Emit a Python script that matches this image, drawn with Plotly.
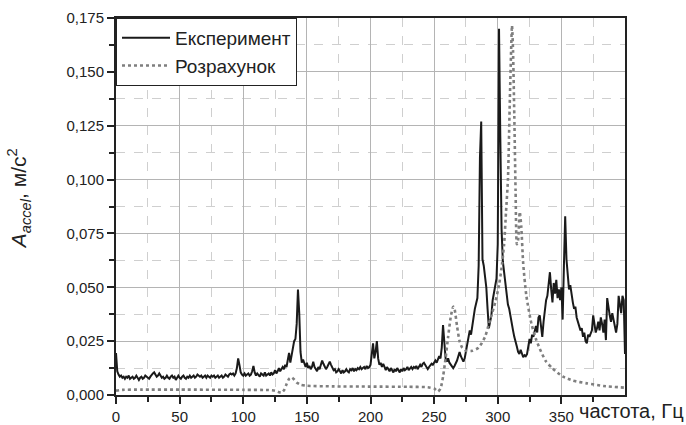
import numpy as np
import plotly.graph_objects as go

# Experiment: amplitude (m/s^2) sampled every 1 Hz from 0 to 400 Hz
exp_freq_step = 1
exp_values = [
    0.0195, 0.0110, 0.0095, 0.0085, 0.0090, 0.0080, 0.0085, 0.0075, 0.0085, 0.0080,  # 0-9
    0.0090, 0.0075, 0.0080, 0.0085, 0.0075, 0.0080, 0.0090, 0.0080, 0.0070, 0.0080,  # 10-19
    0.0085, 0.0075, 0.0080, 0.0090, 0.0085, 0.0080, 0.0075, 0.0085, 0.0095, 0.0100,  # 20-29
    0.0105, 0.0095, 0.0085, 0.0090, 0.0100, 0.0090, 0.0080, 0.0085, 0.0075, 0.0080,  # 30-39
    0.0090, 0.0080, 0.0075, 0.0085, 0.0090, 0.0080, 0.0085, 0.0070, 0.0080, 0.0090,  # 40-49
    0.0080, 0.0075, 0.0085, 0.0090, 0.0080, 0.0075, 0.0085, 0.0080, 0.0090, 0.0080,  # 50-59
    0.0085, 0.0090, 0.0080, 0.0085, 0.0095, 0.0090, 0.0085, 0.0090, 0.0080, 0.0085,  # 60-69
    0.0090, 0.0080, 0.0090, 0.0085, 0.0080, 0.0090, 0.0085, 0.0090, 0.0080, 0.0085,  # 70-79
    0.0090, 0.0080, 0.0085, 0.0090, 0.0080, 0.0085, 0.0095, 0.0090, 0.0085, 0.0095,  # 80-89
    0.0100, 0.0095, 0.0100, 0.0090, 0.0100, 0.0125, 0.0170, 0.0140, 0.0105, 0.0095,  # 90-99
    0.0090, 0.0100, 0.0090, 0.0095, 0.0100, 0.0090, 0.0095, 0.0110, 0.0135, 0.0105,  # 100-109
    0.0090, 0.0100, 0.0090, 0.0085, 0.0100, 0.0095, 0.0090, 0.0105, 0.0090, 0.0095,  # 110-119
    0.0100, 0.0090, 0.0105, 0.0095, 0.0100, 0.0115, 0.0100, 0.0110, 0.0125, 0.0110,  # 120-129
    0.0120, 0.0130, 0.0120, 0.0140, 0.0130, 0.0170, 0.0195, 0.0150, 0.0180, 0.0220,  # 130-139
    0.0250, 0.0260, 0.0330, 0.0490, 0.0380, 0.0200, 0.0150, 0.0165, 0.0140, 0.0130,  # 140-149
    0.0150, 0.0125, 0.0135, 0.0120, 0.0130, 0.0155, 0.0130, 0.0120, 0.0110, 0.0130,  # 150-159
    0.0120, 0.0140, 0.0160, 0.0145, 0.0130, 0.0120, 0.0130, 0.0145, 0.0155, 0.0140,  # 160-169
    0.0125, 0.0115, 0.0120, 0.0105, 0.0110, 0.0120, 0.0110, 0.0100, 0.0115, 0.0105,  # 170-179
    0.0110, 0.0120, 0.0110, 0.0105, 0.0120, 0.0115, 0.0125, 0.0110, 0.0120, 0.0115,  # 180-189
    0.0125, 0.0120, 0.0130, 0.0120, 0.0125, 0.0130, 0.0120, 0.0135, 0.0125, 0.0130,  # 190-199
    0.0140, 0.0180, 0.0240, 0.0170, 0.0200, 0.0250, 0.0170, 0.0140, 0.0150, 0.0130,  # 200-209
    0.0145, 0.0130, 0.0115, 0.0130, 0.0120, 0.0110, 0.0125, 0.0115, 0.0105, 0.0120,  # 210-219
    0.0110, 0.0125, 0.0115, 0.0105, 0.0120, 0.0110, 0.0125, 0.0115, 0.0120, 0.0130,  # 220-229
    0.0115, 0.0125, 0.0130, 0.0120, 0.0130, 0.0125, 0.0135, 0.0120, 0.0130, 0.0140,  # 230-239
    0.0130, 0.0145, 0.0150, 0.0140, 0.0125, 0.0120, 0.0130, 0.0140, 0.0145, 0.0140,  # 240-249
    0.0150, 0.0160, 0.0150, 0.0165, 0.0180, 0.0170, 0.0220, 0.0325, 0.0240, 0.0170,  # 250-259
    0.0155, 0.0170, 0.0150, 0.0140, 0.0135, 0.0125, 0.0135, 0.0145, 0.0160, 0.0180,  # 260-269
    0.0200, 0.0180, 0.0165, 0.0155, 0.0170, 0.0200, 0.0230, 0.0260, 0.0300, 0.0280,  # 270-279
    0.0330, 0.0360, 0.0400, 0.0430, 0.0450, 0.0600, 0.1100, 0.1270, 0.0630, 0.0600,  # 280-289
    0.0550, 0.0500, 0.0400, 0.0310, 0.0340, 0.0370, 0.0440, 0.0470, 0.0500, 0.0540,  # 290-299
    0.0700, 0.1700, 0.1200, 0.0770, 0.0620, 0.0570, 0.0520, 0.0460, 0.0420, 0.0400,  # 300-309
    0.0360, 0.0320, 0.0300, 0.0270, 0.0240, 0.0225, 0.0200, 0.0190, 0.0210, 0.0190,  # 310-319
    0.0175, 0.0185, 0.0180, 0.0190, 0.0220, 0.0260, 0.0240, 0.0280, 0.0270, 0.0300,  # 320-329
    0.0320, 0.0290, 0.0360, 0.0370, 0.0300, 0.0270, 0.0340, 0.0400, 0.0440, 0.0460,  # 330-339
    0.0520, 0.0570, 0.0490, 0.0430, 0.0520, 0.0470, 0.0535, 0.0450, 0.0490, 0.0440,  # 340-349
    0.0500, 0.0350, 0.0600, 0.0830, 0.0630, 0.0550, 0.0490, 0.0510, 0.0460, 0.0430,  # 350-359
    0.0400, 0.0410, 0.0360, 0.0340, 0.0320, 0.0300, 0.0310, 0.0270, 0.0290, 0.0250,  # 360-369
    0.0240, 0.0280, 0.0270, 0.0290, 0.0300, 0.0370, 0.0320, 0.0290, 0.0310, 0.0340,  # 370-379
    0.0300, 0.0360, 0.0330, 0.0290, 0.0350, 0.0255, 0.0450, 0.0400, 0.0370, 0.0340,  # 380-389
    0.0380, 0.0350, 0.0310, 0.0290, 0.0330, 0.0460, 0.0420, 0.0380, 0.0460, 0.0440,  # 390-399
    0.0190,                                                                          # 400
]
exp_freq = list(np.arange(len(exp_values)) * exp_freq_step)

# Calculation (smooth curve)
calc_freq = [0, 5, 20, 50, 100, 120, 125, 128, 130, 132, 134, 136, 138, 140, 142, 145,
             150, 170, 200, 230, 245, 250, 253, 255, 257, 259, 261, 263, 265, 266, 268,
             270, 272, 275, 280, 285, 290, 294, 298, 301, 303, 305, 306.5, 308, 309.5,
             310.5, 311.2, 312, 313, 314, 315, 316, 317.3, 318.5, 320, 322.5, 326.5,
             330, 333, 338, 343, 351, 359, 370, 383, 400]
calc_values = [0.0020, 0.0024, 0.0025, 0.0025, 0.0024, 0.0023, 0.0020, 0.0013, 0.0010,
               0.0022, 0.0050, 0.0075, 0.0082, 0.0072, 0.0058, 0.0048, 0.0043, 0.0040,
               0.0039, 0.0038, 0.0036, 0.0030, 0.0016, 0.0030, 0.0085, 0.0170, 0.0270,
               0.0360, 0.0410, 0.0400, 0.0320, 0.0250, 0.0220, 0.0205, 0.0205, 0.0220,
               0.0270, 0.0350, 0.0430, 0.0510, 0.0590, 0.0700, 0.0850, 0.1000, 0.1370,
               0.1600, 0.1715, 0.1600, 0.1300, 0.0950, 0.0700, 0.0720, 0.0850, 0.0780,
               0.0610, 0.0460, 0.0330, 0.0260, 0.0215, 0.0155, 0.0124, 0.0086, 0.0067,
               0.0054, 0.0042, 0.0034]

x_major = [0, 50, 100, 150, 200, 250, 300, 350]
x_minor = [25, 75, 125, 175, 225, 275, 325, 375]
y_major = [0, 0.025, 0.05, 0.075, 0.1, 0.125, 0.15, 0.175]
y_minor = [0.0125, 0.0375, 0.0625, 0.0875, 0.1125, 0.1375, 0.1625]

FONT = "Liberation Sans, Arial, sans-serif"

fig = go.Figure()
fig.add_trace(go.Scatter(x=exp_freq, y=exp_values, mode="lines", name="Експеримент",
                         line=dict(color="#1a1a1a", width=2)))
fig.add_trace(go.Scatter(x=calc_freq, y=calc_values, mode="lines", name="Розрахунок",
                         line=dict(color="#7f7f7f", width=2.6, dash="dot", shape="spline",
                                   smoothing=0.6)))

fig.update_layout(
    width=686, height=425,
    margin=dict(l=116, r=61, t=18, b=30, autoexpand=False),
    paper_bgcolor="white", plot_bgcolor="white",
    separators=", ",
    font=dict(family=FONT, size=15, color="#222222"),
    showlegend=True,
    legend=dict(x=0, y=1, xanchor="left", yanchor="top",
                bgcolor="white", bordercolor="#222222", borderwidth=1,
                font=dict(size=19, color="#222222"), itemwidth=48,
                tracegroupgap=0),
    xaxis=dict(range=[0, 400], tickmode="array", tickvals=x_major,
               ticktext=[str(v) for v in x_major], automargin=False,
               showline=True, linecolor="#222222", linewidth=2, mirror=True,
               ticks="outside", ticklen=7, tickwidth=1.5, tickcolor="#222222",
               showgrid=True, gridcolor="#b4b4b4", gridwidth=1,
               zeroline=False,
               minor=dict(tickmode="array", tickvals=x_minor, ticks="outside",
                          ticklen=5, tickwidth=1.5, tickcolor="#222222",
                          showgrid=True, gridcolor="#cfcfcf", griddash="dash", gridwidth=1)),
    yaxis=dict(range=[0, 0.175], tickmode="array", tickvals=y_major,
               tickformat=".3f", automargin=False,
               showline=True, linecolor="#222222", linewidth=2, mirror=True,
               ticks="outside", ticklen=7, tickwidth=1.5, tickcolor="#222222",
               showgrid=True, gridcolor="#b4b4b4", gridwidth=1,
               zeroline=False,
               minor=dict(tickmode="array", tickvals=y_minor, ticks="outside",
                          ticklen=5, tickwidth=1.5, tickcolor="#222222",
                          showgrid=True, gridcolor="#cfcfcf", griddash="dash", gridwidth=1)),
    annotations=[
        dict(text="частота, Гц", xref="paper", yref="paper", x=0.905, y=0,
             xanchor="left", yanchor="top", yshift=-3, showarrow=False,
             font=dict(size=20, color="#222222")),
        dict(text="<i>A<sub>accel</sub></i>, м/с<sup>2</sup>", xref="paper", yref="paper",
             x=-0.19, y=0.52, xanchor="center", yanchor="middle", textangle=-90,
             showarrow=False, font=dict(size=21, color="#222222")),
    ],
)

fig.write_html("out.html")
